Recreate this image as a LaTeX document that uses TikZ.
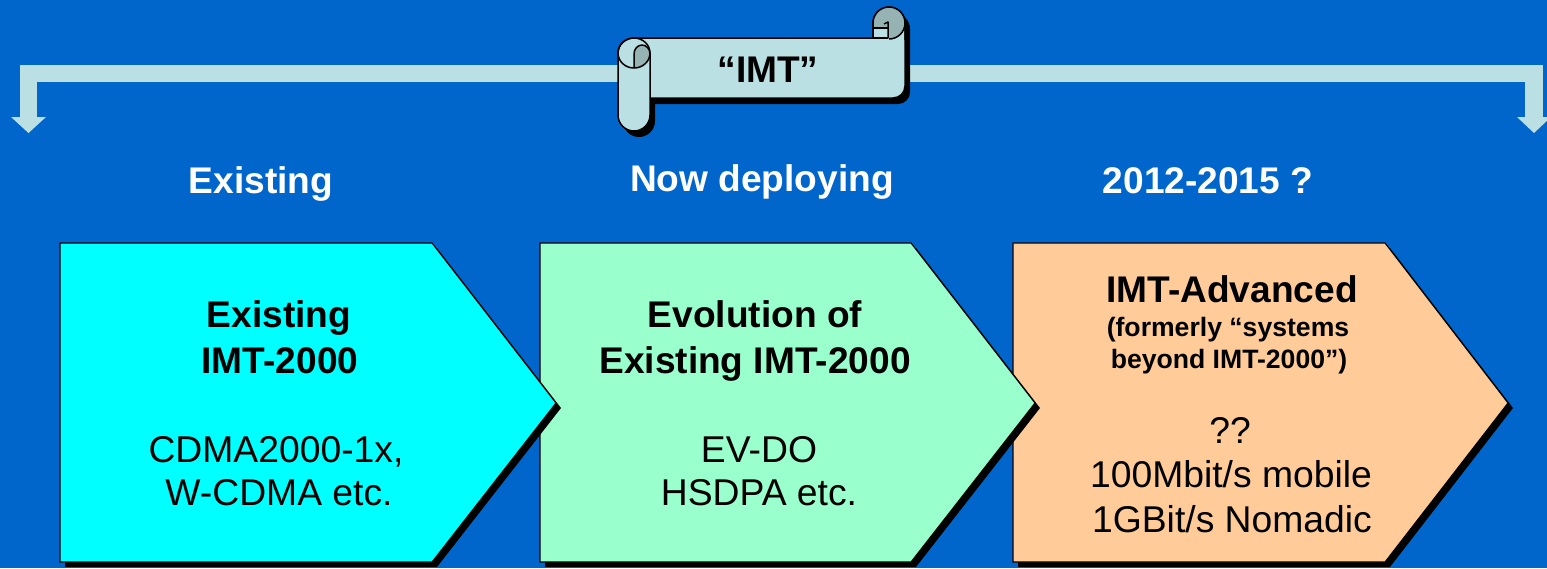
\documentclass[tikz,border=0pt]{standalone}
\usepackage{fontspec}
\setmainfont{Liberation Sans}
\definecolor{bg}{HTML}{0066CC}
\definecolor{pale}{HTML}{BBE0E3}
\definecolor{curlc}{HTML}{96B3B4}
\definecolor{cyanc}{HTML}{00FFFF}
\definecolor{mint}{HTML}{99FFCC}
\definecolor{peach}{HTML}{FFCC99}
\begin{document}
\begin{tikzpicture}[x=1pt,y=-1pt,
  hdr/.style={font=\fontsize{37.1}{44}\selectfont\bfseries, text=white, inner sep=0pt, anchor=base},
  bold/.style={font=\fontsize{37.1}{44}\selectfont\bfseries, text=black, inner sep=0pt, anchor=base},
  small/.style={font=\fontsize{26.6}{32}\selectfont\bfseries, text=black, inner sep=0pt, anchor=base},
  plain/.style={font=\fontsize{37.3}{44}\selectfont, text=black, inner sep=0pt, anchor=base},
  chev/.style={draw=black, line width=1.1pt, line join=miter},
  shad/.style={fill=black, shift={(5,5)}},
  scrl/.style={draw=black, line width=1.5pt, line join=round}]
\useasboundingbox (0,0) rectangle (1547,568);
\clip (0,0) rectangle (1547,568);
\fill[bg] (0,0) rectangle (1547,568);

% bracket arrow
\fill[pale] (20,65) rectangle (1543,82);
\fill[pale] (20,65) rectangle (37,118);
\fill[pale] (11,117) -- (46,117) -- (28.5,133) -- cycle;
\fill[pale] (1525,65) rectangle (1543,118);
\fill[pale] (1517,117) -- (1551,117) -- (1534,133) -- cycle;

% scroll
\fill[black, shift={(5,6)}] (618,115) -- (618,53) arc[start angle=180,end angle=270,x radius=16,y radius=15]
  -- (873,38) -- (873,23) arc[start angle=180,end angle=360,radius=16]
  -- (905,86) arc[start angle=0,end angle=90,radius=12]
  -- (650,98) -- (650,115) arc[start angle=0,end angle=180,radius=16] -- cycle;
\filldraw[scrl, fill=pale] (618,115) -- (618,53) arc[start angle=180,end angle=270,x radius=16,y radius=15]
  -- (873,38) -- (873,23) arc[start angle=180,end angle=360,radius=16]
  -- (905,86) arc[start angle=0,end angle=90,radius=12]
  -- (650,98) -- (650,115) arc[start angle=0,end angle=180,radius=16] -- cycle;
% left curl
\begin{scope}
  \clip (634,53) ellipse [x radius=16, y radius=15];
  \fill[curlc] (634,75) -- (634,54) arc[start angle=180,end angle=360,x radius=8,y radius=9] -- (650,75) -- cycle;
\end{scope}
\draw[scrl] (634,53) ellipse [x radius=16, y radius=15];
\draw[scrl] (634,68) -- (634,54) arc[start angle=180,end angle=360,x radius=8,y radius=9] -- (650,98);
% right curl
\begin{scope}
  \clip (873,38) -- (873,23) arc[start angle=180,end angle=360,radius=16] -- (905,40) -- (873,40) -- cycle;
  \fill[curlc] (889,23) circle[radius=16];
\end{scope}
\fill[pale] (873,28) rectangle (888,38);
\draw[scrl] (873,28) -- (888,28);
\draw[scrl] (884,24) -- (888,22) -- (888,38);
\draw[scrl] (873,38) -- (888,38);
\draw[scrl] (889,39) arc[start angle=90,end angle=0,radius=16];
\draw[scrl] (873,38) -- (873,23) arc[start angle=180,end angle=360,radius=16] -- (905,40);
\node[bold] (imt) at (768,82) {“IMT”};

% headers
\node[hdr] (h1) at (261,193) {Existing};
\node[hdr] (h2) at (762,191) {Now deploying};
\node[hdr] (h3) at (1208,193) {2012-2015 ?};

% chevron 3
\fill[shad] (1013,243) -- (1385,243) -- (1508,403) -- (1385,562) -- (1013,562) -- cycle;
\filldraw[chev, fill=peach] (1013,243) -- (1385,243) -- (1508,403) -- (1385,562) -- (1013,562) -- cycle;
% chevron 2
\fill[shad] (540,243) -- (911,243) -- (1035,403) -- (911,562) -- (540,562) -- cycle;
\filldraw[chev, fill=mint] (540,243) -- (911,243) -- (1035,403) -- (911,562) -- (540,562) -- cycle;
% chevron 1
\fill[shad] (60,243) -- (432,243) -- (556,403) -- (432,562) -- (60,562) -- cycle;
\filldraw[chev, fill=cyanc] (60,243) -- (432,243) -- (556,403) -- (432,562) -- (60,562) -- cycle;

% texts chevron 1
\node[bold] (c1a) at (279,327) {Existing};
\node[bold] (c1b) at (280,373) {IMT-2000};
\node[plain] (c1c) at (276,462) {CDMA2000-1x,};
\node[plain] (c1d) at (279,505) {W-CDMA etc.};
% texts chevron 2
\node[bold] (c2a) at (755,327) {Evolution of};
\node[bold] (c2b) at (755,373) {Existing IMT-2000};
\node[plain] (c2c) at (759,462) {EV-DO};
\node[plain] (c2d) at (759,505) {HSDPA etc.};
% texts chevron 3
\node[bold] (c3a) at (1232,302) {IMT-Advanced};
\node[small] (c3b) at (1228,336) {(formerly “systems};
\node[small] (c3c) at (1229,368) {beyond IMT-2000”)};
\node[plain] (c3d) at (1230,443) {??};
\node[plain] (c3e) at (1231,487) {100Mbit/s mobile};
\node[plain] (c3f) at (1232,532) {1GBit/s Nomadic};
\end{tikzpicture}
\end{document}
